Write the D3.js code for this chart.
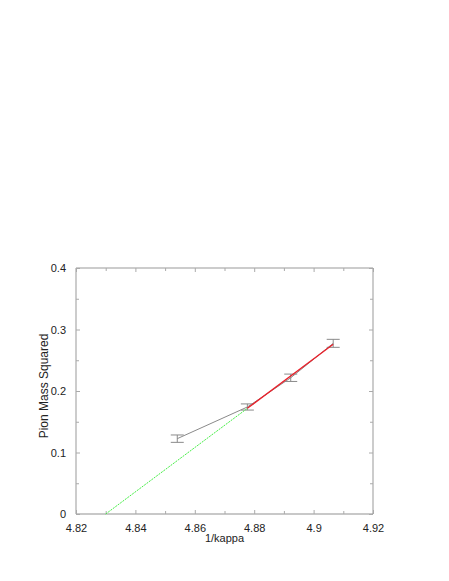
<!DOCTYPE html>
<html>
<head>
<meta charset="utf-8">
<script src="https://cdn.jsdelivr.net/npm/d3@7"></script>
<style>
body { margin: 0; background: #fff; }
svg text { font-family: "Liberation Sans", Arial, sans-serif; font-size: 11px; fill: #222; }
</style>
</head>
<body>
<svg id="chart" width="449" height="581"></svg>
<script>
// measured points (1/kappa, m_pi^2, error)
var kappaInv = [4.8541, 4.8777, 4.8923, 4.9066];
var pionSq = [0.1225, 0.1740, 0.2215, 0.2775];
var pionErr = [0.0060, 0.0050, 0.0060, 0.0065];

// linear fit: extrapolated part (green) and fitted part (red)
var fitLowX = [4.8300, 4.8777];
var fitLowY = [0.0000, 0.1718];
var fitHighX = [4.8777, 4.9066];
var fitHighY = [0.1718, 0.2760];

var xTicks = [4.82, 4.84, 4.86, 4.88, 4.9, 4.92];
var xMinor = [4.83, 4.85, 4.87, 4.89, 4.91];
var yTicks = [0, 0.1, 0.2, 0.3, 0.4];
var yMinor = [0.05, 0.15, 0.25, 0.35];

var margin = { top: 268, right: 76, bottom: 67, left: 76 },
    width = 449 - margin.left - margin.right,
    height = 581 - margin.top - margin.bottom;

var svg = d3.select("#chart")
var g = svg.append("g").attr("transform", "translate(" + margin.left + "," + margin.top + ")")

var x = d3.scaleLinear().domain([4.82, 4.92]).range([0, width]);
var y = d3.scaleLinear().domain([0, 0.4]).range([height, 0]);

// frame
g.append("line").attr("x1", 0).attr("x2", width).attr("y1", height).attr("y2", height)
    .attr("stroke", "#c8c8c8").attr("stroke-width", 2)
g.append("line").attr("x1", 0).attr("x2", width).attr("y1", 0).attr("y2", 0)
    .attr("stroke", "#999").attr("stroke-width", 1)
g.append("line").attr("x1", 0).attr("x2", 0).attr("y1", 0).attr("y2", height)
    .attr("stroke", "#999").attr("stroke-width", 1)
g.append("line").attr("x1", width).attr("x2", width).attr("y1", 0).attr("y2", height)
    .attr("stroke", "#999").attr("stroke-width", 1)

// inward ticks on all four sides
function tickAxis(axisFn, scale, values, len, labels) {
    var a = axisFn(scale).tickValues(values).tickSizeInner(-len).tickSizeOuter(0)
    if (!labels) a.tickFormat("")
    else a.tickPadding(6 + len).tickFormat(d3.format("~g"))
    return a
}
var axes = [
    { fn: d3.axisBottom, s: x, t: [0, height], maj: xTicks, min: xMinor, lab: true },
    { fn: d3.axisTop, s: x, t: [0, 0], maj: xTicks, min: xMinor, lab: false },
    { fn: d3.axisLeft, s: y, t: [0, 0], maj: yTicks, min: yMinor, lab: true },
    { fn: d3.axisRight, s: y, t: [width, 0], maj: yTicks, min: yMinor, lab: false }
]
axes.forEach(function (ax) {
    var ga = g.append("g").attr("transform", "translate(" + ax.t[0] + "," + ax.t[1] + ")")
        .call(tickAxis(ax.fn, ax.s, ax.maj, 4, ax.lab))
    var gm = g.append("g").attr("transform", "translate(" + ax.t[0] + "," + ax.t[1] + ")")
        .call(tickAxis(ax.fn, ax.s, ax.min, 3, false))
    ga.select(".domain").remove()
    gm.select(".domain").remove()
    ga.selectAll("line").attr("stroke", "#aaa")
    gm.selectAll("line").attr("stroke", "#aaa")
    ga.selectAll("text").style("font-family", "Liberation Sans, Arial, sans-serif")
        .style("font-size", "11px").attr("fill", "#222")
})

// data connecting line
var line = d3.line().x(function (d) { return x(d[0]) }).y(function (d) { return y(d[1]) })
var pts = kappaInv.map(function (k, i) { return [k, pionSq[i]] })
g.append("path").datum(pts).attr("d", line)
    .attr("fill", "none").attr("stroke", "#8a8a8a").attr("stroke-width", 1)

// error bars
var cap = 6.5
var eb = g.selectAll(".err").data(pts).enter().append("g").attr("class", "err")
eb.append("line")
    .attr("x1", function (d) { return x(d[0]) }).attr("x2", function (d) { return x(d[0]) })
    .attr("y1", function (d, i) { return y(d[1] - pionErr[i]) })
    .attr("y2", function (d, i) { return y(d[1] + pionErr[i]) })
    .attr("stroke", "#8a8a8a")
eb.append("line")
    .attr("x1", function (d) { return x(d[0]) - cap }).attr("x2", function (d) { return x(d[0]) + cap })
    .attr("y1", function (d, i) { return y(d[1] + pionErr[i]) })
    .attr("y2", function (d, i) { return y(d[1] + pionErr[i]) })
    .attr("stroke", "#8a8a8a")
eb.append("line")
    .attr("x1", function (d) { return x(d[0]) - cap }).attr("x2", function (d) { return x(d[0]) + cap })
    .attr("y1", function (d, i) { return y(d[1] - pionErr[i]) })
    .attr("y2", function (d, i) { return y(d[1] - pionErr[i]) })
    .attr("stroke", "#8a8a8a")

// fit lines
g.append("path").datum(fitLowX.map(function (k, i) { return [k, fitLowY[i]] })).attr("d", line)
    .attr("fill", "none").attr("stroke", "#44ee44").attr("stroke-width", 1)
    .attr("stroke-dasharray", "2,1")
g.append("path").datum(fitHighX.map(function (k, i) { return [k, fitHighY[i]] })).attr("d", line)
    .attr("fill", "none").attr("stroke", "#e8202a").attr("stroke-width", 1.3)

// axis titles
svg.append("text")
    .attr("x", margin.left + width / 2)
    .attr("y", 542)
    .attr("text-anchor", "middle")
    .text("1/kappa")
svg.append("text")
    .attr("transform", "translate(48,386) rotate(-90)")
    .attr("text-anchor", "middle")
    .style("font-size", "12px")
    .text("Pion Mass Squared")
</script>
</body>
</html>
